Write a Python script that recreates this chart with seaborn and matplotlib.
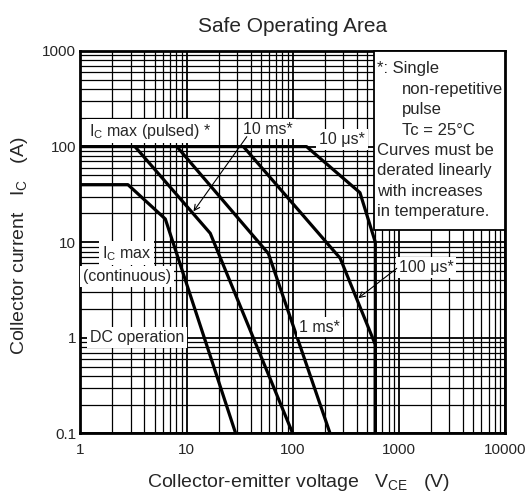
import numpy as np
import pandas as pd
import matplotlib
matplotlib.use('Agg')
import matplotlib.pyplot as plt
import seaborn as sns
from matplotlib.ticker import LogLocator, NullFormatter, FixedLocator, FixedFormatter
from matplotlib.patches import Rectangle

# SOA boundary curves (VCE in V, IC in A)
dc_v = [1, 2.8, 6.3, 29]
dc_i = [40, 40, 17.5, 0.1]
ms10_v = [3.26, 16.7, 100]
ms10_i = [100, 12.4, 0.1]
ms1_v = [8.1, 59, 225]
ms1_i = [100, 7.6, 0.1]
us100_v = [34.3, 280, 600, 600]
us100_i = [100, 6.8, 0.85, 0.1]
us10_v = [1, 135, 430, 600, 600]
us10_i = [100, 100, 33, 10, 0.1]

tick_vals = [0.1, 1, 10, 100, 1000]
tick_labels = ["0.1", "1", "10", "100", "1000"]
xtick_vals = [1, 10, 100, 1000, 10000]
xtick_labels = ["1", "10", "100", "1000", "10000"]

note_lines = ["*: Single", "non-repetitive", "pulse", "Tc = 25°C",
              "Curves must be", "derated linearly", "with increases", "in temperature."]
note_indented = [False, True, True, True, False, False, False, False]

sns.set_style("white")
plt.rcParams['font.family'] = ['Liberation Sans', 'DejaVu Sans']
plt.rcParams['mathtext.fontset'] = 'custom'
plt.rcParams['mathtext.rm'] = 'Liberation Sans'
plt.rcParams['mathtext.it'] = 'Liberation Sans:italic'

curves = {"DC": (dc_v, dc_i), "10ms": (ms10_v, ms10_i), "1ms": (ms1_v, ms1_i),
          "100us": (us100_v, us100_i), "10us": (us10_v, us10_i)}
rows = []
for name, (vs, cs) in curves.items():
    for k, (v, c) in enumerate(zip(vs, cs)):
        rows.append({"curve": name, "order": k, "V": v, "I": c})
df = pd.DataFrame(rows)

fig = plt.figure(figsize=(5.31, 4.93), dpi=100)
ax = fig.add_axes([0.1516, 0.1207, 0.7994, 0.7759])

sns.lineplot(data=df, x="V", y="I", units="curve", estimator=None, sort=False,
             color="black", lw=2.3, ax=ax, legend=False, zorder=3)

ax.set_xscale("log")
ax.set_yscale("log")
ax.set_xlim(1, 10000)
ax.set_ylim(0.1, 1000)

ax.xaxis.set_major_locator(FixedLocator(xtick_vals))
ax.xaxis.set_major_formatter(FixedFormatter(xtick_labels))
ax.yaxis.set_major_locator(FixedLocator(tick_vals))
ax.yaxis.set_major_formatter(FixedFormatter(tick_labels))
ax.xaxis.set_minor_locator(LogLocator(base=10, subs=np.arange(2, 10)))
ax.yaxis.set_minor_locator(LogLocator(base=10, subs=np.arange(2, 10)))
ax.xaxis.set_minor_formatter(NullFormatter())
ax.yaxis.set_minor_formatter(NullFormatter())

ax.grid(which="major", color="black", lw=1.3)
ax.grid(which="minor", color="black", lw=0.9)
ax.set_axisbelow(True)
ax.tick_params(which="both", length=0)
ax.tick_params(axis="x", labelsize=11, pad=7)
ax.tick_params(axis="y", labelsize=11, pad=3)
for s in ax.spines.values():
    s.set_linewidth(2)
    s.set_color("black")

ax.set_title("Safe Operating Area", fontsize=15, pad=14)
ax.set_xlabel(r"Collector-emitter voltage   V$_\mathrm{CE}$   (V)", fontsize=14)
ax.xaxis.set_label_coords(0.514, -0.1)
ax.set_ylabel(r"Collector current   I$_\mathrm{C}$   (A)", fontsize=14)
ax.yaxis.set_label_coords(-0.12, 0.49)

wbox = dict(facecolor="white", edgecolor="none", pad=2)
fs = 11.5
ax.text(1.2, 130, r"I$_\mathrm{C}$ max (pulsed) *", fontsize=fs, ha="left", va="baseline", bbox=wbox, zorder=4)
ax.text(58.5, 137, "10 ms*", fontsize=fs, ha="center", va="baseline", bbox=wbox, zorder=4)
ax.text(291, 106, "10 μs*", fontsize=fs, ha="center", va="baseline", bbox=wbox, zorder=4)
ax.text(2.74, 6.84, r"I$_\mathrm{C}$ max", fontsize=fs, ha="center", va="baseline", bbox=wbox, zorder=4)
ax.text(2.74, 3.93, "(continuous)", fontsize=fs, ha="center", va="baseline", bbox=wbox, zorder=4)
ax.text(3.41, 0.904, "DC operation", fontsize=fs, ha="center", va="baseline", bbox=wbox, zorder=4)
ax.text(180, 1.16, "1 ms*", fontsize=fs, ha="center", va="baseline", bbox=wbox, zorder=4)
ax.text(1804, 4.87, "100 μs*", fontsize=fs, ha="center", va="baseline", bbox=wbox, zorder=4)

arrow = dict(arrowstyle="->", color="black", lw=0.8, shrinkA=0, shrinkB=0)
ax.annotate("", xy=(11.6, 21.0), xytext=(36.9, 127), arrowprops=arrow, zorder=4)
ax.annotate("", xy=(415, 2.6), xytext=(955, 5.33), arrowprops=arrow, zorder=4)

# note box in the upper right corner
ax.add_patch(Rectangle((0.6914, 0.532), 0.3086, 0.468, transform=ax.transAxes,
                       facecolor="white", edgecolor="black", lw=1.3, zorder=5, clip_on=False))
ax_h = 382.5
for i, line in enumerate(note_lines):
    x_px = 402 if note_indented[i] else 377
    y_px = 69 + i * 20.4
    ax.text((x_px - 80.5) / 424.5, (433.5 - y_px) / ax_h, line, transform=ax.transAxes,
            fontsize=12, ha="left", va="center", zorder=6)

fig.savefig("out.png", dpi=100)
